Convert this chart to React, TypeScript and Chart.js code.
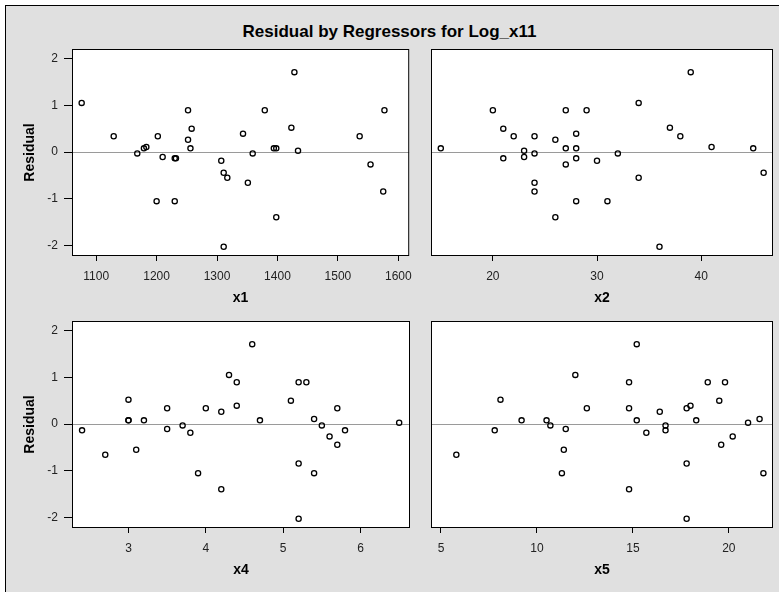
import React, { useEffect, useRef } from 'react';
import { Chart, registerables } from 'chart.js';
Chart.register(...registerables);

const residual = [1.713, 1.054, 0.896, 0.896, 0.896, 0.523, 0.502, 0.394, 0.337, 0.337, 0.337, 0.265, 0.108, 0.079, 0.079, 0.079, 0.079, 0.029, -0.029, -0.029, -0.108, -0.136, -0.136, -0.186, -0.265, -0.444, -0.552, -0.659, -0.846, -1.054, -1.054, -1.398, -2.03];
const x1 = [1428, 1076, 1252, 1379, 1577, 1423, 1258, 1343, 1129, 1202, 1536, 1252, 1183, 1179, 1256, 1394, 1398, 1434, 1168, 1359, 1210, 1230, 1232, 1307, 1554, 1311, 1317, 1351, 1575, 1200, 1230, 1398, 1311];
const x2 = [39, 34, 20, 27, 29, 37, 21, 28, 22, 24, 38, 26, 41, 15, 27, 28, 45, 23, 24, 32, 23, 21, 28, 30, 27, 46, 34, 24, 24, 28, 31, 26, 36];
const x4 = [4.6, 4.3, 4.4, 5.2, 5.3, 3.0, 5.1, 4.4, 3.5, 4.0, 5.7, 4.2, 5.4, 3.0, 3.2, 4.7, 3.0, 6.5, 3.7, 5.5, 3.5, 2.4, 5.8, 3.8, 5.6, 5.7, 3.1, 2.7, 5.2, 3.9, 5.4, 4.2, 5.2];
const x5 = [15.2, 12.0, 14.8, 18.9, 19.8, 8.1, 19.5, 18.0, 12.6, 14.8, 17.8, 16.4, 21.6, 9.2, 10.5, 15.2, 18.3, 21.0, 10.7, 16.7, 11.5, 7.8, 16.7, 15.7, 20.2, 19.6, 11.4, 5.8, 17.8, 11.3, 21.8, 14.8, 17.8];

const x1Ticks = [1100, 1200, 1300, 1400, 1500, 1600];
const x2Ticks = [20, 30, 40];
const x4Ticks = [3, 4, 5, 6];
const x5Ticks = [5, 10, 15, 20];
const yTicks = [-2, -1, 0, 1, 2];

const TITLE = 'Residual by Regressors for Log_x11';
const Y_TITLE = 'Residual';
const FONT = "Arial, 'Liberation Sans', sans-serif";
const BOLD_FONT = "Arial, 'Liberation Sans', sans-serif";

const framePlugin = {
  id: 'frame',
  beforeDraw(chart: any) {
    const { ctx, chartArea: a } = chart;
    ctx.save();
    ctx.fillStyle = '#ffffff';
    ctx.fillRect(a.left, a.top, a.right - a.left, a.bottom - a.top);
    ctx.restore();
  },
  beforeDatasetsDraw(chart: any) {
    const { ctx, chartArea: a } = chart;
    const y = Math.round(chart.scales.y.getPixelForValue(0)) + 0.5;
    ctx.save();
    ctx.strokeStyle = '#9a9a9a';
    ctx.lineWidth = 1;
    ctx.beginPath();
    ctx.moveTo(a.left, y);
    ctx.lineTo(a.right, y);
    ctx.stroke();
    ctx.restore();
  },
  afterDraw(chart: any) {
    const { ctx, chartArea: a } = chart;
    ctx.save();
    ctx.strokeStyle = '#000';
    ctx.lineWidth = 1;
    ctx.strokeRect(a.left + 0.5, a.top + 0.5, a.right - a.left - 1, a.bottom - a.top - 1);
    ctx.restore();
  },
};

type PanelProps = {
  left: number; top: number; width: number; height: number;
  xs: number[]; xMin: number; xMax: number; xTicks: number[]; xTitle: string;
  showY: boolean; padLeft: number; padRight: number;
};

function Panel(p: PanelProps) {
  const ref = useRef<HTMLCanvasElement>(null);
  useEffect(() => {
    const chart = new Chart(ref.current!, {
      type: 'scatter',
      data: {
        datasets: [{
          data: p.xs.map((x, i) => ({ x, y: residual[i] })),
          pointRadius: 2.6,
          pointHoverRadius: 2.6,
          pointBorderWidth: 1.3,
          borderColor: '#000',
          backgroundColor: 'rgba(255,255,255,0)',
        }],
      },
      options: {
        responsive: false,
        animation: false,
        events: [],
        layout: { padding: { left: p.padLeft, right: p.padRight, top: 14, bottom: 0 } },
        plugins: { legend: { display: false }, tooltip: { enabled: false }, title: { display: false } },
        scales: {
          x: {
            type: 'linear',
            min: p.xMin,
            max: p.xMax,
            afterBuildTicks: (s: any) => { s.ticks = p.xTicks.map((v) => ({ value: v })); },
            afterFit: (s: any) => { s.height = 54; },
            grid: { display: true, drawOnChartArea: false, drawTicks: true, tickLength: 5, color: '#000' },
            border: { display: false },
            ticks: { color: '#222', padding: 8, maxRotation: 0, autoSkip: false, font: { family: FONT, size: 12 }, callback: (v: any) => String(v) },
            title: { display: true, text: p.xTitle, color: '#000', font: { family: BOLD_FONT, size: 14, weight: 'bold' }, padding: { top: 0, bottom: 3 } },
          },
          y: {
            type: 'linear',
            display: p.showY,
            min: -2.23,
            max: 2.21,
            afterBuildTicks: (s: any) => { s.ticks = yTicks.map((v) => ({ value: v })); },
            afterFit: (s: any) => { s.width = p.showY ? 72 : 0; },
            grid: { display: true, drawOnChartArea: false, drawTicks: true, tickLength: 8, color: '#000' },
            border: { display: false },
            ticks: { color: '#222', padding: 6, autoSkip: false, font: { family: FONT, size: 12 }, callback: (v: any) => String(v) },
            title: { display: true, text: Y_TITLE, color: '#000', font: { family: BOLD_FONT, size: 14, weight: 'bold' }, padding: { top: 22, bottom: 0 } },
          },
        },
      } as any,
      plugins: [framePlugin],
    });
    return () => chart.destroy();
  }, []);
  return (
    <canvas
      ref={ref}
      width={p.width}
      height={p.height}
      style={{ position: 'absolute', left: p.left, top: p.top, width: p.width, height: p.height }}
    />
  );
}

export default function App() {
  return (
    <div style={{ position: 'absolute', left: 0, top: 0, width: 779, height: 592, overflow: 'hidden', background: '#fff' }}>
      <div style={{ position: 'absolute', left: 5, top: 5, width: 800, height: 600, background: '#e0e0e0', borderLeft: '1px solid #000', borderTop: '1px solid #000' }} />
      <div style={{ position: 'absolute', left: 0, top: 22, width: 779, textAlign: 'center', fontFamily: BOLD_FONT, fontWeight: 'bold', fontSize: 17, lineHeight: '20px', color: '#000' }}>{TITLE}</div>
      <Panel left={0} top={35} width={420} height={275} xs={x1} xMin={1060} xMax={1618} xTicks={x1Ticks} xTitle="x1" showY={true} padLeft={0} padRight={10} />
      <Panel left={420} top={35} width={359} height={275} xs={x2} xMin={14.06} xMax={46.9} xTicks={x2Ticks} xTitle="x2" showY={false} padLeft={11} padRight={6} />
      <Panel left={0} top={307} width={420} height={275} xs={x4} xMin={2.27} xMax={6.64} xTicks={x4Ticks} xTitle="x4" showY={true} padLeft={0} padRight={10} />
      <Panel left={420} top={307} width={359} height={275} xs={x5} xMin={4.48} xMax={22.3} xTicks={x5Ticks} xTitle="x5" showY={false} padLeft={11} padRight={6} />
    </div>
  );
}
